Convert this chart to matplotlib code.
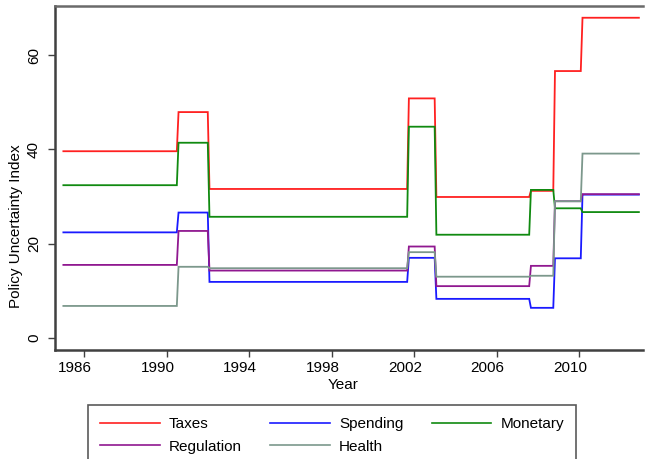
import numpy as np
import matplotlib
matplotlib.use("Agg")
import matplotlib.pyplot as plt
from matplotlib.transforms import ScaledTranslation

# Period boundaries (decimal years): each regime runs from start to end,
# with one month between consecutive regimes
period_start = [1985.0, 1990.583, 1992.083, 2001.75, 2003.083, 2007.667, 2008.833, 2010.167]
period_end = [1990.5, 1992.0, 2001.667, 2003.0, 2007.583, 2008.75, 2010.083, 2012.9]

taxes = [39.6, 47.9, 31.6, 50.8, 29.9, 31.2, 56.6, 67.9]
spending = [22.4, 26.6, 11.9, 17.0, 8.3, 6.4, 16.9, 30.4]
monetary = [32.4, 41.4, 25.7, 44.8, 21.9, 31.4, 27.5, 26.7]
regulation = [15.5, 22.7, 14.3, 19.4, 11.0, 15.3, 29.0, 30.5]
health = [6.8, 15.1, 14.8, 18.2, 13.0, 13.2, 29.0, 39.1]

series_names = ["Taxes", "Spending", "Monetary", "Regulation", "Health"]
series_values = [taxes, spending, monetary, regulation, health]
series_colors = ["#ff2020", "#1a1aff", "#108a10", "#901890", "#7c988c"]

x_ticks = [1986, 1990, 1994, 1998, 2002, 2006, 2010]
y_ticks = [0, 20, 40, 60]

plt.rcParams["font.family"] = ["Liberation Sans", "DejaVu Sans"]

fig = plt.figure(figsize=(6.46, 4.59), dpi=100)
W, H = 646, 459
ax = fig.add_axes([55 / W, 1 - 350 / H, (643 - 55) / W, (350 - 6) / H])


def regime_path(values):
    xs, ys = [], []
    for s, e, v in zip(period_start, period_end, values):
        xs += [s, e]
        ys += [v, v]
    return xs, ys


handles = []
for name, vals, col in zip(series_names, series_values, series_colors):
    xs, ys = regime_path(vals)
    (h,) = ax.plot(xs, ys, color=col, lw=1.3, label=name, solid_joinstyle="miter")
    handles.append(h)

ax.set_xlim(1984.594, 2013.10)
ax.set_ylim(-2.54, 70.39)
ax.set_xticks(x_ticks)
ax.set_yticks(y_ticks)
ax.set_yticklabels([str(t) for t in y_ticks], rotation=90, va="center")

spine_col = "#404040"
for side in ["left", "bottom"]:
    ax.spines[side].set_color(spine_col)
    ax.spines[side].set_linewidth(1.8)
ax.spines["top"].set_color("#6a6a6a")
ax.spines["top"].set_linewidth(1.8)
ax.spines["right"].set_visible(False)
ax.tick_params(axis="both", direction="out", length=5, width=1.0, color=spine_col,
               labelsize=11, labelcolor="black", pad=3)
ax.tick_params(axis="y", pad=5)

# year labels sit slightly left of their ticks
shift = ScaledTranslation(-9 / 100, 0, fig.dpi_scale_trans)
for lbl in ax.get_xticklabels():
    lbl.set_transform(lbl.get_transform() + shift)

ax.set_xlabel("Year", fontsize=11)
ax.xaxis.set_label_coords((343 - 55) / 588, (350 - 385) / 344)
ax.xaxis.label.set_va("center")
ax.set_ylabel("Policy Uncertainty Index", fontsize=11)
ax.yaxis.set_label_coords((16 - 55) / 588, (350 - 226) / 344)
ax.yaxis.label.set_va("center")

# Legend: three columns, filled row by row (matplotlib fills column-wise)
leg_order = [0, 3, 1, 4, 2]
box_h = 90 / H
leg = fig.legend(
    [handles[i] for i in leg_order],
    [series_names[i] for i in leg_order],
    loc="upper left",
    bbox_to_anchor=(88 / W, 1 - 405 / H - box_h, (576 - 88) / W, box_h),
    mode="expand",
    ncol=3,
    fontsize=11,
    frameon=True,
    fancybox=False,
    edgecolor="#303030",
    handlelength=3.9,
    handletextpad=0.6,
    columnspacing=2.0,
    borderpad=0.78,
    labelspacing=0.58,
    borderaxespad=0,
)
leg.get_frame().set_linewidth(1.2)
for line in leg.get_lines():
    line.set_linewidth(1.2)

fig.savefig("out.png", dpi=100)
